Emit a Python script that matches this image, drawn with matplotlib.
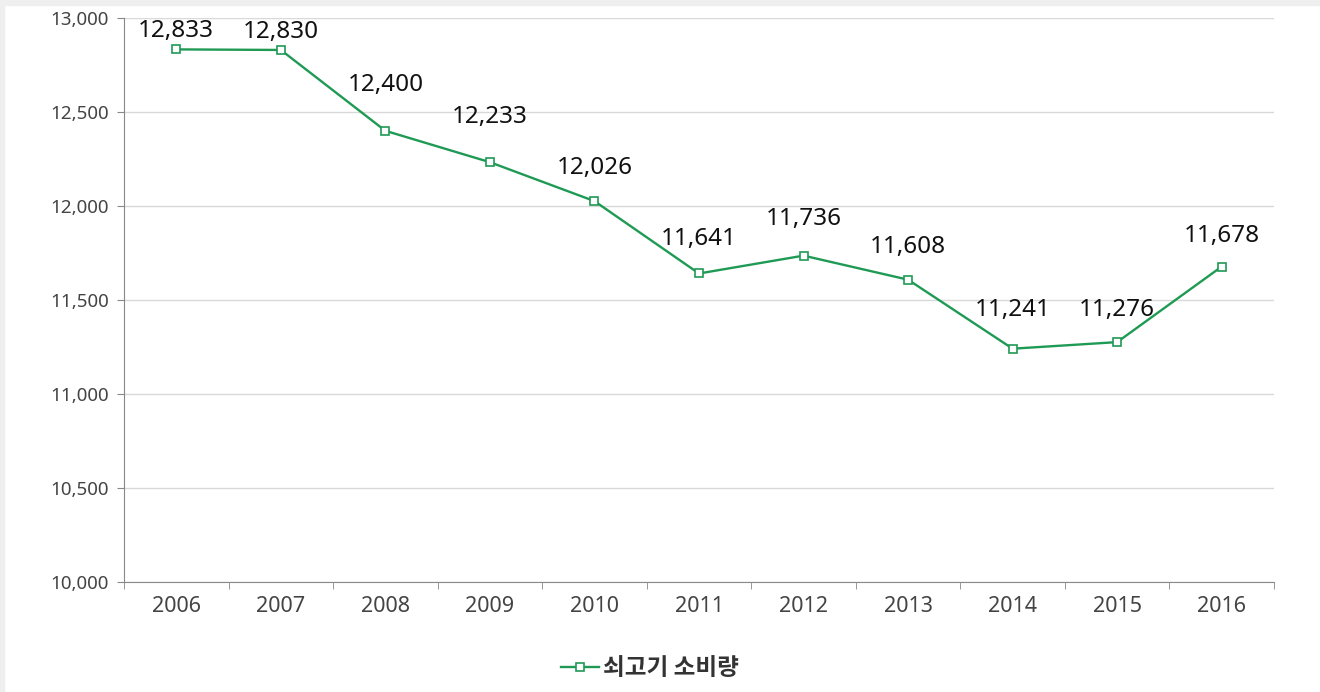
import matplotlib
matplotlib.use("Agg")
import matplotlib.pyplot as plt
from matplotlib.patches import Rectangle

plt.rcParams['font.family'] = ['Noto Sans', 'Noto Sans CJK KR', 'DejaVu Sans']

# data
years = ['2006', '2007', '2008', '2009', '2010', '2011',
         '2012', '2013', '2014', '2015', '2016']
beef = [12833, 12830, 12400, 12233, 12026, 11641,
        11736, 11608, 11241, 11276, 11678]
series_name = '쇠고기 소비량'

# label offsets above each point, in pixels
label_dy = [18, 18, 46, 45, 33, 34, 37, 33, 39, 32, 31]

green = '#1f9a55'

fig = plt.figure(figsize=(13.2, 6.92), dpi=100)
fig.patch.set_facecolor('white')
# light grey frame strips (left and top) like the screenshot
fig.patches.append(Rectangle((0, 0), 4 / 1320, 1, transform=fig.transFigure,
                             color='#efefef', zorder=0))
fig.patches.append(Rectangle((0, 1 - 5 / 692), 1, 5 / 692, transform=fig.transFigure,
                             color='#efefef', zorder=0))

ax = fig.add_axes([124 / 1320, 1 - 582 / 692, 1150 / 1320, 564 / 692])

x = list(range(len(years)))
ax.plot(x, beef, color=green, lw=1.7, marker='s', ms=5.5, mfc='white',
        mec=green, mew=1.2, label=series_name, zorder=3)

for xi, v, dy in zip(x, beef, label_dy):
    ax.annotate(f'{v:,}', (xi, v), xytext=(0, dy * 0.72), textcoords='offset points',
                ha='center', va='center', fontsize=17.5, color='#111111')

ax.set_xlim(-0.5, len(years) - 0.5)
ax.set_ylim(10000, 13000)
ax.set_yticks(range(10000, 13001, 500))
ax.set_yticklabels([f'{t:,}' for t in range(10000, 13001, 500)])
ax.grid(axis='y', color='#d9d9d9', lw=1)
ax.set_axisbelow(True)

ax.set_xticks(x)
ax.set_xticklabels(years)
ax.set_xticks([i - 0.5 for i in range(len(years) + 1)], minor=True)
ax.tick_params(axis='x', which='major', length=0, pad=10, labelsize=15.5, labelcolor='#444444')
ax.tick_params(axis='x', which='minor', length=5, color='#888888')
ax.tick_params(axis='y', length=5, color='#888888', labelsize=13.5, labelcolor='#444444', pad=6)

for s in ['top', 'right']:
    ax.spines[s].set_visible(False)
for s in ['left', 'bottom']:
    ax.spines[s].set_color('#888888')

leg = fig.legend(loc='center', bbox_to_anchor=(650 / 1320, 1 - 668 / 692), frameon=False,
                 handlelength=1.6, handletextpad=0.15,
                 prop={'family': 'Noto Sans CJK KR', 'size': 17, 'weight': 'bold'})
for t in leg.get_texts():
    t.set_color('#333333')

fig.savefig('out.png', dpi=100)
